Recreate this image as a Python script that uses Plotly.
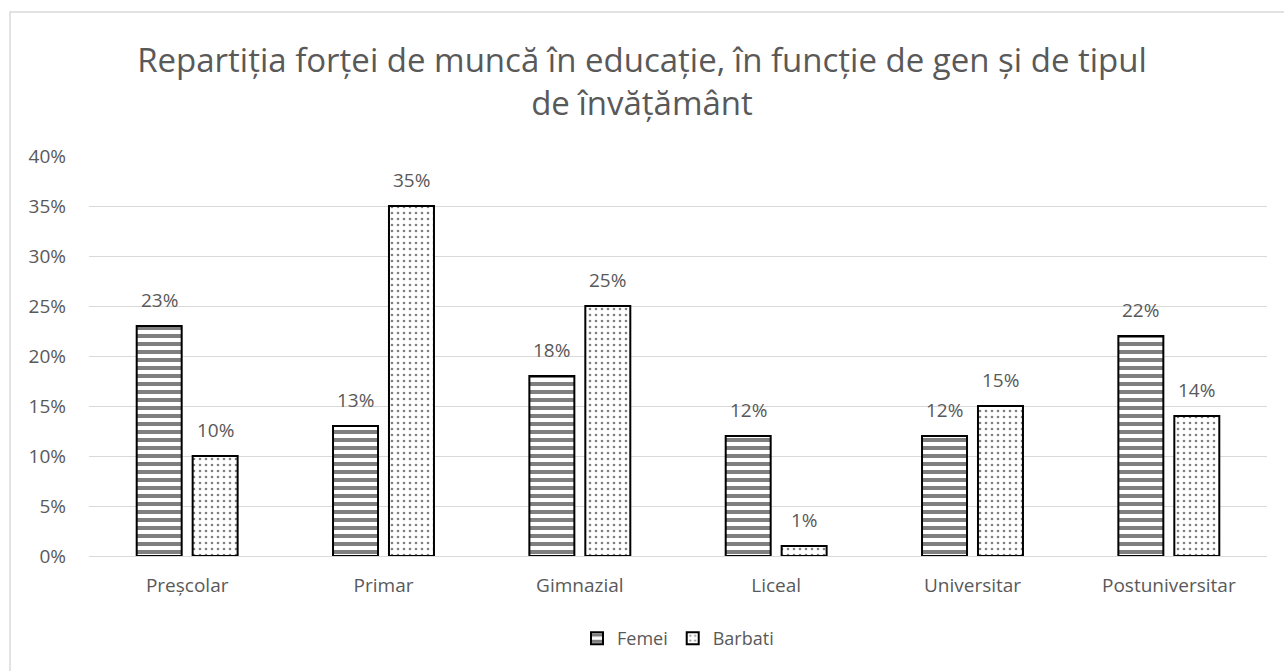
import plotly.graph_objects as go

categories = ["Preșcolar", "Primar", "Gimnazial", "Liceal", "Universitar", "Postuniversitar"]
femei = [23, 13, 18, 12, 12, 22]
barbati = [10, 35, 25, 1, 15, 14]
series_names = ["Femei", "Barbati"]
y_ticks = [0, 5, 10, 15, 20, 25, 30, 35, 40]

FONT = "Open Sans"
GREY = "#595959"

L, R, T, B = 89, 17, 156, 115
W, H = 1284, 671
plot_w = W - L - R
plot_h = H - T - B

fig = go.Figure()
fig.add_trace(go.Bar(
    name=series_names[0], x=categories, y=femei,
    marker=dict(color="white", line=dict(color="black", width=2),
                pattern=dict(shape="-", size=8, solidity=0.5, fgcolor="black", bgcolor="white", fillmode="overlay")),
))
fig.add_trace(go.Bar(
    name=series_names[1], x=categories, y=barbati,
    marker=dict(color="white", line=dict(color="black", width=2),
                pattern=dict(shape=".", size=6, solidity=0.15, fgcolor="black", bgcolor="white", fillmode="overlay")),
))

bargap = 0.43
bargroupgap = 0.196
cat_w = plot_w / len(categories)
slot = cat_w * (1 - bargap) / 2
shift = slot / 2

annotations = []
for vals, sgn in ((femei, -1), (barbati, 1)):
    for c, v in zip(categories, vals):
        annotations.append(dict(
            x=c, y=v, xref="x", yref="y", text=f"{v}%", showarrow=False,
            xshift=sgn * shift, yanchor="bottom", yshift=11,
            font=dict(family=FONT, size=19, color=GREY)))

px_to_x = lambda px: (px - L) / plot_w
px_to_y = lambda py: (H - B - py) / plot_h

fig.update_layout(
    width=W, height=H,
    margin=dict(l=L, r=R, t=T, b=B),
    paper_bgcolor="white", plot_bgcolor="white",
    barmode="group", bargap=bargap, bargroupgap=bargroupgap,
    title=dict(text="Repartiția forței de muncă în educație, în funcție de gen și de tipul<br>de învățământ",
               x=0.5, xanchor="center", y=1 - 72 / H, yanchor="top",
               font=dict(family=FONT, size=33, color=GREY)),
    font=dict(family=FONT, size=19, color=GREY),
    xaxis=dict(showgrid=False, showline=True, linecolor="#d9d9d9", linewidth=1,
               ticks="", ticklabelstandoff=12, tickfont=dict(family=FONT, size=19, color=GREY)),
    yaxis=dict(range=[0, 40], tickvals=y_ticks, ticktext=[f"{t}%" for t in y_ticks],
               showgrid=True, gridcolor="#d9d9d9", gridwidth=1, zeroline=False,
               showline=False, ticks="", ticklabelstandoff=22,
               tickfont=dict(family=FONT, size=19, color=GREY)),
    legend=dict(orientation="h", x=0.5, xanchor="center", y=px_to_y(620), yanchor="top",
                font=dict(family=FONT, size=18, color=GREY), itemwidth=30,
                traceorder="normal"),
    annotations=annotations,
    shapes=[dict(type="rect", xref="paper", yref="paper",
                 x0=px_to_x(10), x1=px_to_x(1300), y0=px_to_y(690), y1=px_to_y(12),
                 line=dict(color="#d9d9d9", width=1.5), fillcolor="rgba(0,0,0,0)", layer="below")],
)

fig.write_html("out.html")
